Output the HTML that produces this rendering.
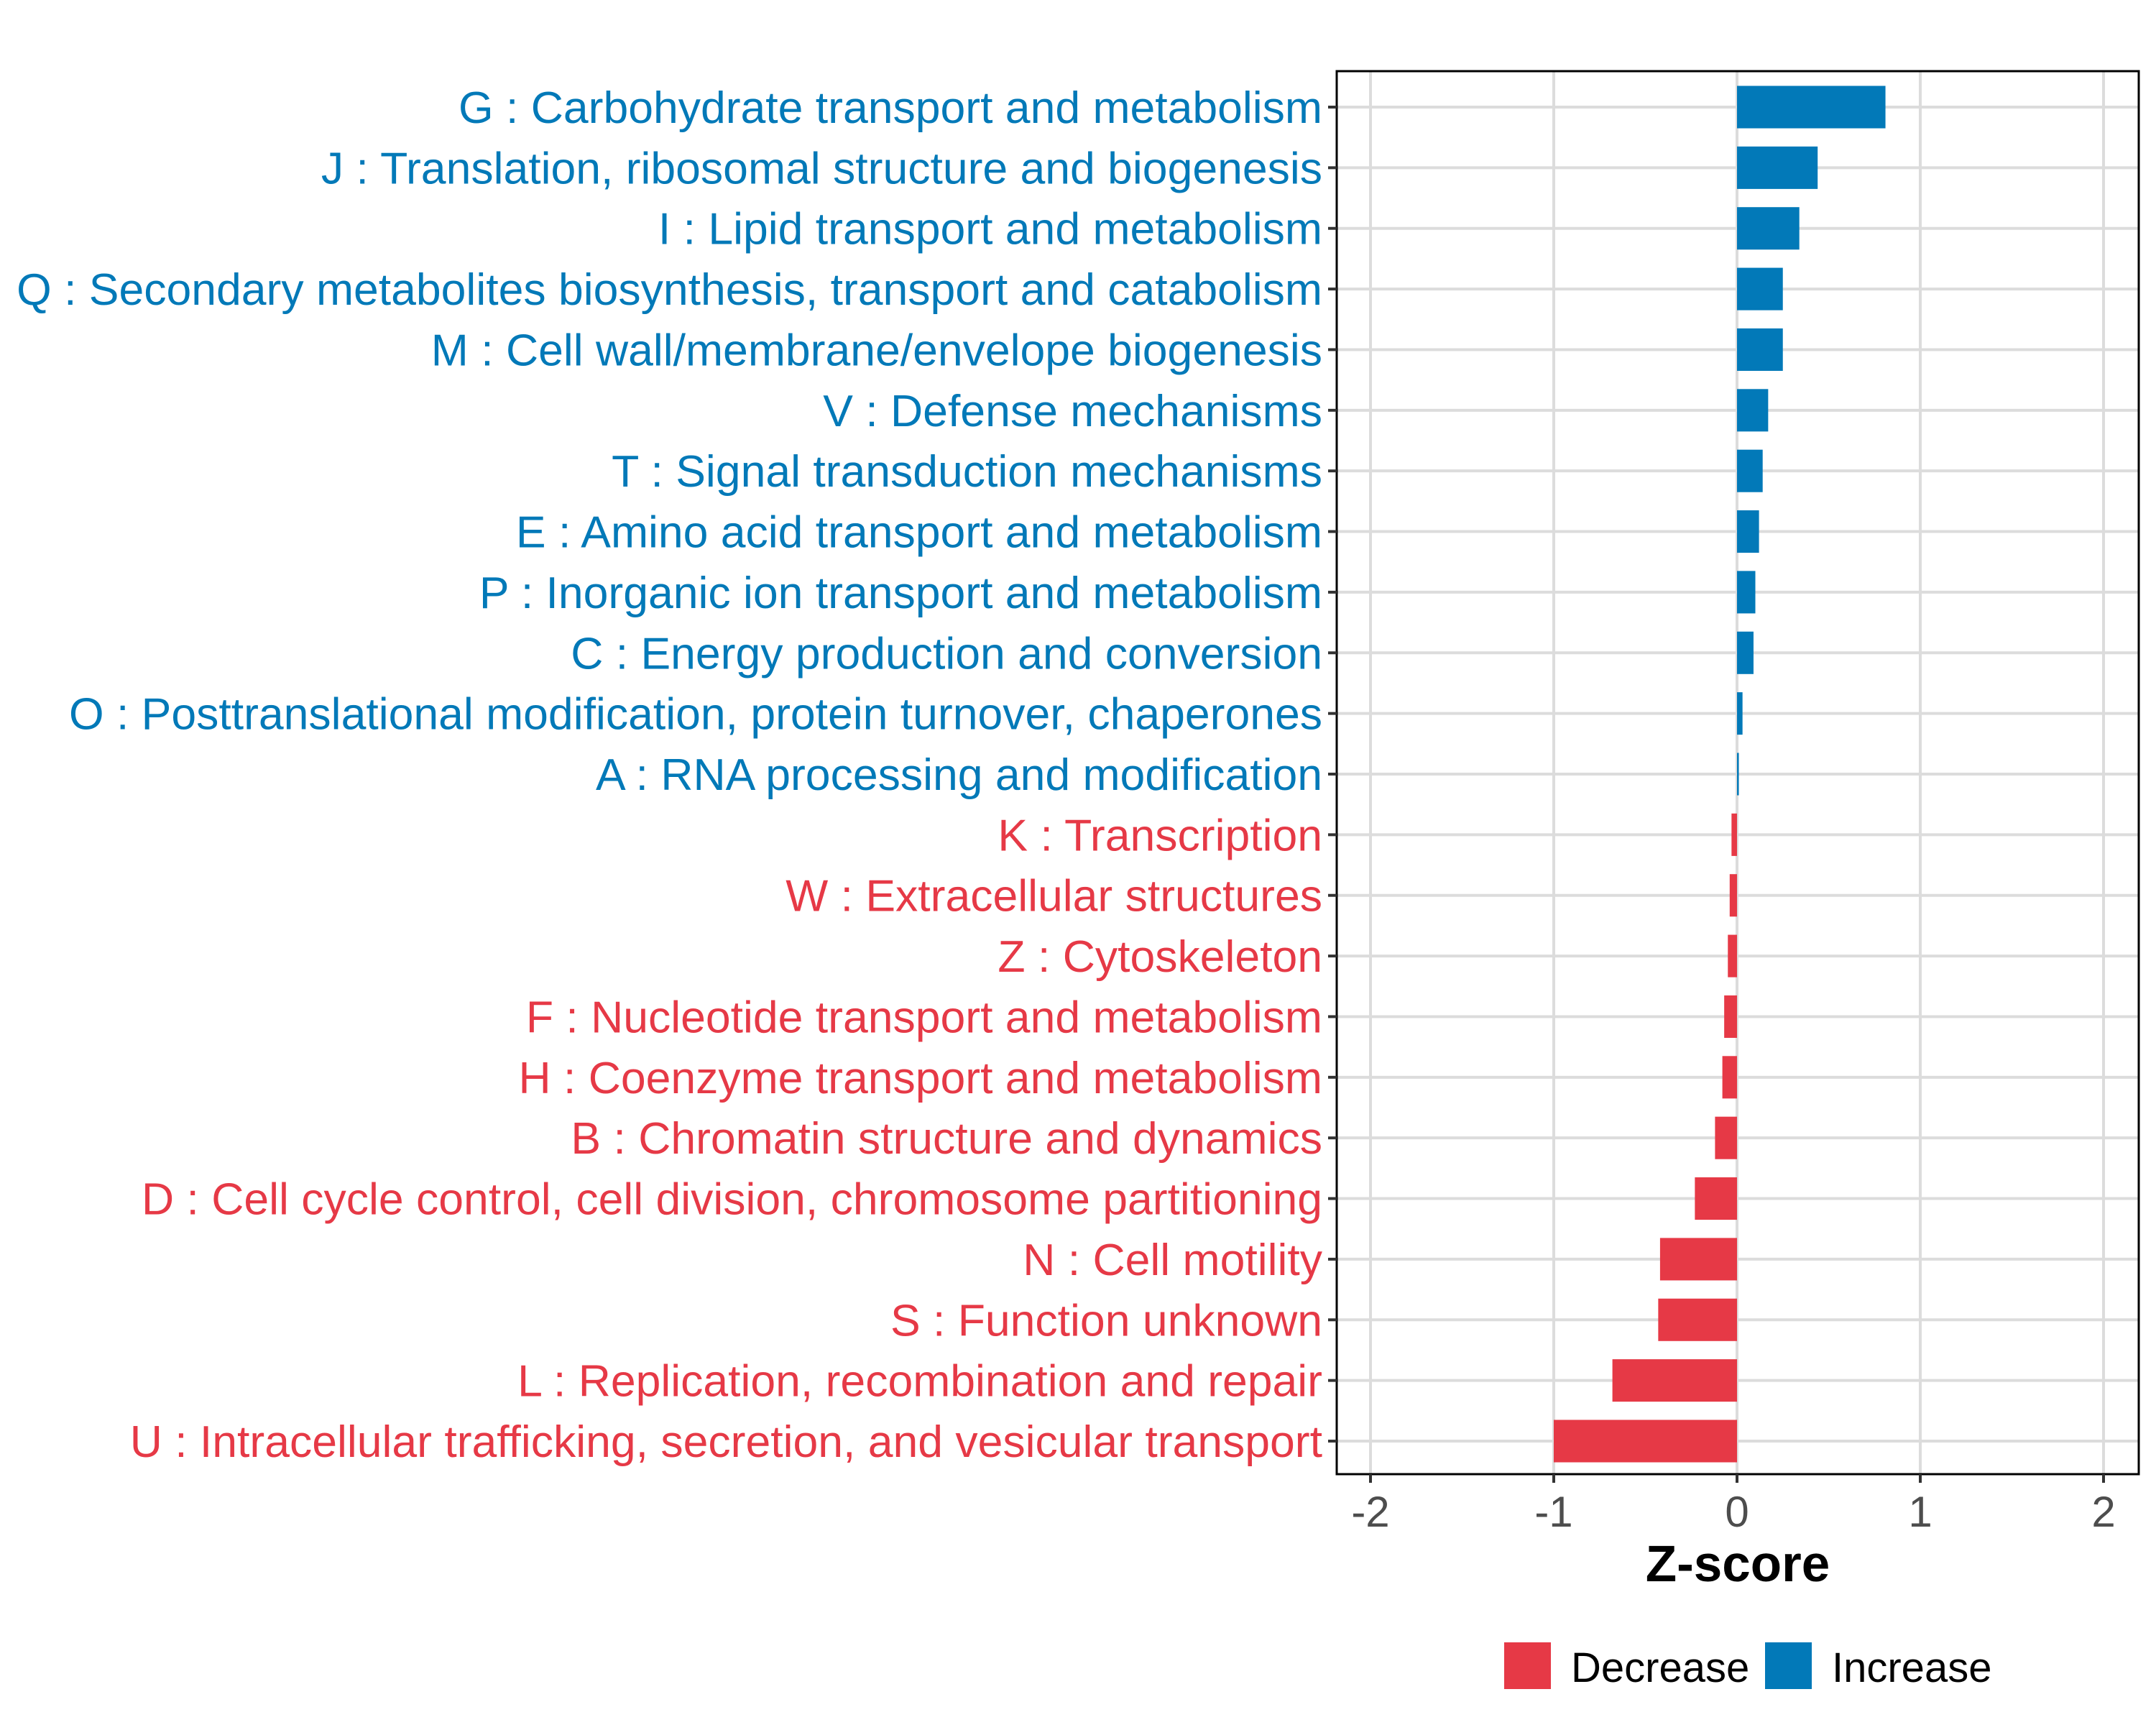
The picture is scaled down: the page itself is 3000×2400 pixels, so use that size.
<!DOCTYPE html>
<html><head><meta charset="utf-8"><style>
html,body{margin:0;padding:0;background:#fff;}
svg{display:block;font-family:"Liberation Sans",Arial,sans-serif;}
</style></head><body>
<svg id="chart" width="3000" height="2400" viewBox="0 0 3000 2400" xmlns="http://www.w3.org/2000/svg">
<rect width="3000" height="2400" fill="#fff"/>
<g id="grid"></g>
<g id="bars"></g>
<rect x="1860" y="99" width="1116" height="1952" fill="none" stroke="#000" stroke-width="3"/>
<g id="ylabels"></g>
<g id="xaxis"></g>
<text x="2418" y="2200" text-anchor="middle" font-size="71" font-weight="bold" fill="#000">Z-score</text>
<g>
<rect x="2093" y="2285" width="65" height="65" fill="#E63946"/>
<text x="2186" y="2340" font-size="58" fill="#000">Decrease</text>
<rect x="2456" y="2285" width="65" height="65" fill="#0279B8"/>
<text x="2549" y="2340" font-size="58" fill="#000">Increase</text>
</g>
</svg>
<script>
const categories = [
"G : Carbohydrate transport and metabolism",
"J : Translation, ribosomal structure and biogenesis",
"I : Lipid transport and metabolism",
"Q : Secondary metabolites biosynthesis, transport and catabolism",
"M : Cell wall/membrane/envelope biogenesis",
"V : Defense mechanisms",
"T : Signal transduction mechanisms",
"E : Amino acid transport and metabolism",
"P : Inorganic ion transport and metabolism",
"C : Energy production and conversion",
"O : Posttranslational modification, protein turnover, chaperones",
"A : RNA processing and modification",
"K : Transcription",
"W : Extracellular structures",
"Z : Cytoskeleton",
"F : Nucleotide transport and metabolism",
"H : Coenzyme transport and metabolism",
"B : Chromatin structure and dynamics",
"D : Cell cycle control, cell division, chromosome partitioning",
"N : Cell motility",
"S : Function unknown",
"L : Replication, recombination and repair",
"U : Intracellular trafficking, secretion, and vesicular transport"
];
const zscores = [0.81,0.44,0.34,0.25,0.25,0.17,0.14,0.12,0.10,0.09,0.03,0.01,-0.03,-0.04,-0.05,-0.07,-0.08,-0.12,-0.23,-0.42,-0.43,-0.68,-1.0];
const xTicks = [-2,-1,0,1,2];
const xTickLabels = ["-2","-1","0","1","2"];

const NS="http://www.w3.org/2000/svg";
const PL=1860, PR=2976, PT=99, PB=2051;
const X0=2417, UNIT=255;
const xScale = v => X0 + v*UNIT;
const ROW0=149, STEP=(2005-149)/(categories.length-1);
const yScale = i => ROW0 + i*STEP;
const BH=STEP*0.7;
const BLUE="#0279B8", RED="#E63946";
function mk(tag, attrs, parent){const e=document.createElementNS(NS,tag);for(const k in attrs)e.setAttribute(k,attrs[k]);parent.appendChild(e);return e;}
const grid=document.getElementById('grid'), bars=document.getElementById('bars'), yl=document.getElementById('ylabels'), xa=document.getElementById('xaxis');
xTicks.forEach((t,i)=>{
  const x=xScale(t);
  const g=mk('line',{x1:x,x2:x,y1:PT,y2:PB,stroke:'#dcdcdc','stroke-width':4},grid);
  
  
  const tk=mk('line',{x1:x,x2:x,y1:PB,y2:PB+12,stroke:'#333','stroke-width':4},xa);
  
  
  const tx=mk('text',{x:x,y:2124,'text-anchor':'middle','font-size':60,fill:'#4d4d4d'},xa);
  tx.textContent=xTickLabels[i];
  
  
});
categories.forEach((c,i)=>{
  const y=yScale(i), v=zscores[i];
  const gl=mk('line',{x1:PL,x2:PR,y1:y,y2:y,stroke:'#dcdcdc','stroke-width':4},grid);
  
  
  const x1=xScale(Math.min(0,v)), x2=xScale(Math.max(0,v));
  const r=mk('rect',{x:x1,y:y-BH/2,width:Math.max(x2-x1,2),height:BH,fill:v>=0?BLUE:RED},bars);
  
  
  const tk=mk('line',{x1:PL-12,x2:PL,y1:y,y2:y,stroke:'#333','stroke-width':4},yl);
  
  
  const t=mk('text',{x:PL-20,y:y+22,'text-anchor':'end','font-size':62.5,fill:v>=0?BLUE:RED},yl);
  t.textContent=c;
  
  
});
</script>
</body></html>
